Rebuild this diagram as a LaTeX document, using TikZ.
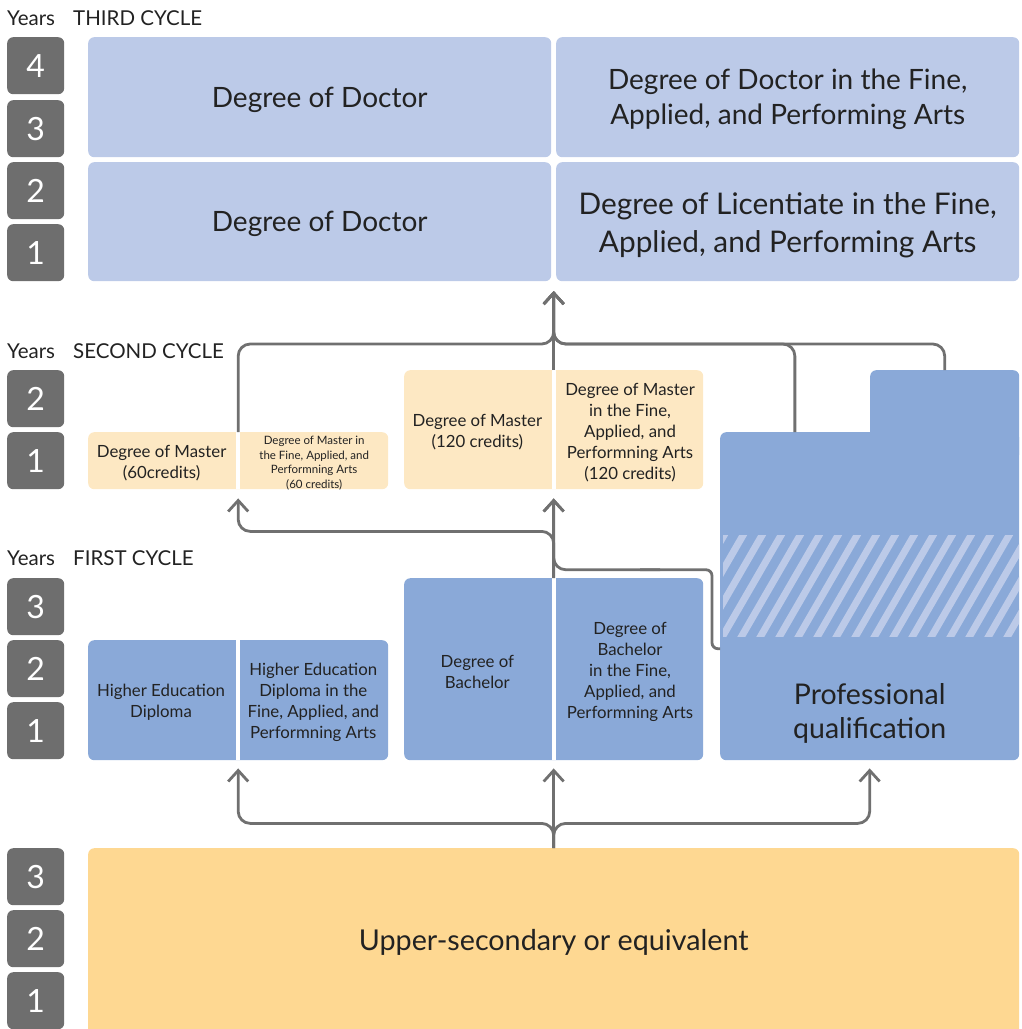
\documentclass[tikz,border=0pt]{standalone}
\usepackage{fontspec}
\setmainfont{Lato}
\usetikzlibrary{calc,arrows.meta}
\definecolor{yeargray}{HTML}{6E6E6E}
\definecolor{paleblue}{HTML}{BCCAE8}
\definecolor{midblue}{HTML}{8AA9D8}
\definecolor{peach}{HTML}{FDE8C3}
\definecolor{sunny}{HTML}{FED892}
\definecolor{linegray}{HTML}{707070}
\definecolor{ink}{HTML}{222222}
\begin{document}
\begin{tikzpicture}[x=1pt,y=-1pt,
  yr/.style={fill=yeargray, rounded corners=6pt, minimum width=57pt, minimum height=57pt, inner sep=0pt, text=white, font=\fontsize{32}{32}\selectfont, anchor=north west},
  blk/.style={rounded corners=6pt, inner sep=0pt, anchor=north west},
  lbl/.style={text=ink, align=center, inner sep=0pt, yshift=-2.5pt},
  hdr/.style={text=ink, anchor=base west, inner sep=0pt, font=\fontsize{20.5}{20.5}\selectfont},
  big/.style={lbl, font=\fontsize{28}{35}\selectfont},
  mid/.style={lbl, font=\fontsize{16.8}{21}\selectfont},
  tiny/.style={lbl, font=\fontsize{11.5}{14.5}\selectfont},
  conn/.style={draw=linegray, line width=2.8pt, rounded corners=12pt},
  arr/.style={-{Straight Barb[length=11pt,width=20pt]}},
  splitline/.style={draw=white, line width=4pt}
]
\useasboundingbox (0,0) rectangle (1021,1029);

% headers
\node[hdr] (yh3) at (7,25) {Years};
\node[hdr] (ch3) at (73,25) {THIRD CYCLE};
\node[hdr] (yh2) at (7,358) {Years};
\node[hdr] (ch2) at (73,358) {SECOND CYCLE};
\node[hdr] (yh1) at (7,565) {Years};
\node[hdr] (ch1) at (73,565) {FIRST CYCLE};

% year boxes
\node[yr] (t4) at (7,37) {4};
\node[yr] (t3) at (7,100) {3};
\node[yr] (t2) at (7,162) {2};
\node[yr] (t1) at (7,224) {1};
\node[yr] (s2) at (7,370) {2};
\node[yr] (s1) at (7,432) {1};
\node[yr] (f3) at (7,578) {3};
\node[yr] (f2) at (7,640) {2};
\node[yr] (f1) at (7,702) {1};
\node[yr] (u3) at (7,848) {3};
\node[yr] (u2) at (7,910) {2};
\node[yr] (u1) at (7,972) {1};

% third cycle
\node[blk, fill=paleblue, minimum width=463pt, minimum height=120pt] (td1) at (88,37) {};
\node[blk, fill=paleblue, minimum width=463pt, minimum height=120pt] (td2) at (556,37) {};
\node[blk, fill=paleblue, minimum width=463pt, minimum height=119pt] (tl1) at (88,162) {};
\node[blk, fill=paleblue, minimum width=463pt, minimum height=119pt] (tl2) at (556,162) {};
\node[big] (td1t) at (td1.center) {Degree of Doctor};
\node[big] (td2t) at (td2.center) {Degree of Doctor in the Fine,\\Applied, and Performing Arts};
\node[big] (tl1t) at (tl1.center) {Degree of Doctor};
\node[lbl, font=\fontsize{29.8}{38}\selectfont] (tl2t) at ($(tl2.center)+(0,1.5)$) {Degree of Licentiate in the Fine,\\Applied, and Performing Arts};

% second cycle
\node[blk, fill=peach, minimum width=300pt, minimum height=57pt] (m60) at (88,432) {};
\node[blk, fill=peach, minimum width=299pt, minimum height=119pt] (m120) at (404,370) {};
\draw[splitline] (m60.north) -- (m60.south);
\draw[splitline] (m120.north) -- (m120.south);
\node[mid] (m60a) at ($(m60.west)!0.245!(m60.east)$) {Degree of Master\\(60credits)};
\node[tiny] (m60b) at ($(m60.west)!0.753!(m60.east)$) {Degree of Master in\\the Fine, Applied, and\\Performning Arts\\(60 credits)};
\node[mid] (m120a) at ($(m120.west)!0.245!(m120.east)$) {Degree of Master\\(120 credits)};
\node[mid] (m120b) at ($(m120.west)!0.755!(m120.east)$) {Degree of Master\\in the Fine,\\Applied, and\\Performning Arts\\(120 credits)};

% professional qualification
\node[blk, fill=midblue, minimum width=149pt, minimum height=90pt] (profT) at (870,370) {};
\node[blk, fill=midblue, minimum width=299pt, minimum height=328pt] (prof) at (720,432) {};
\fill[midblue] (870,425) rectangle (1019,445);
\begin{scope}
  \clip (723,535) rectangle (1019,636);
  \foreach \i in {-4,...,17} {
    \draw[paleblue, line width=7pt] ({723+19*\i-10},653) -- ({723+19*\i+68},518);
  }
\end{scope}
\node[big, font=\fontsize{28.5}{34}\selectfont] (proft) at ($(prof.south)+(0,-49)$) {Professional\\qualification};

% first cycle
\node[blk, fill=midblue, minimum width=300pt, minimum height=120pt] (hed) at (88,640) {};
\node[blk, fill=midblue, minimum width=299pt, minimum height=182pt] (bach) at (404,578) {};
\draw[splitline] (hed.north) -- (hed.south);
\draw[splitline] (bach.north) -- (bach.south);
\node[mid] (heda) at ($(hed.west)!0.243!(hed.east)$) {Higher Education\\Diploma};
\node[mid] (hedb) at ($(hed.west)!0.75!(hed.east)$) {Higher Education\\Diploma in the\\Fine, Applied, and\\Performning Arts};
\node[mid] (bacha) at ($(bach.west)!0.245!(bach.east)$) {Degree of\\Bachelor};
\node[mid] (bachb) at ($(bach.west)!0.755!(bach.east)$) {Degree of\\Bachelor\\in the Fine,\\Applied, and\\Performning Arts};

% upper secondary
\node[blk, fill=sunny, minimum width=931pt, minimum height=190pt] (us) at (88,848) {};
\node[lbl, font=\fontsize{28.7}{34}\selectfont] (ust) at ($(us.north)+(0,92)$) {Upper-secondary or equivalent};

% connectors: upper secondary to first cycle
\coordinate (tipB) at ($(bach.south)+(0,8)$);
\draw[conn,arr] (us.north) -- (tipB);
\draw[conn,arr] (us.north) |- ($(hed.south)+(0,63)$) -- ($(hed.south)+(0,8)$);
\draw[conn,arr] (us.north) |- ($(prof.south)+(0,63)$) -- ($(prof.south)+(0,8)$);

% first cycle to second cycle
\coordinate (tipM) at ($(m120.south)+(0,9)$);
\coordinate (pin) at ($(prof.south west)!0.34!(prof.north west)$);
\draw[conn,arr] (bach.north) -- (tipM);
\draw[conn,arr] (bach.north) |- ($(m60.south)+(0,42)$) -- ($(m60.south)+(0,9)$);
\draw[conn, rounded corners=6pt] (pin) -- ($(pin)+(-8,0)$) -- ($(pin)+(-8,-79)$) -- ($(pin)+(-80,-79)$);
\draw[conn,arr] ($(pin)+(-60,-79)$) -| (tipM);

% second cycle to third cycle
\coordinate (tipT) at ($(m120.north)+(0,-79)$);
\coordinate (jT) at ($(m120.north)+(0,-26)$);
\coordinate (p795) at ($(prof.north west)!0.25!(prof.north east)$);
\draw[conn,arr] (m120.north) -- (tipT);
\draw[conn,arr] (m60.north) |- (jT) -- (tipT);
\draw[conn,arr] (p795) |- (jT) -- (tipT);
\draw[conn,arr] (profT.north) |- (jT) -- (tipT);
\end{tikzpicture}
\end{document}
